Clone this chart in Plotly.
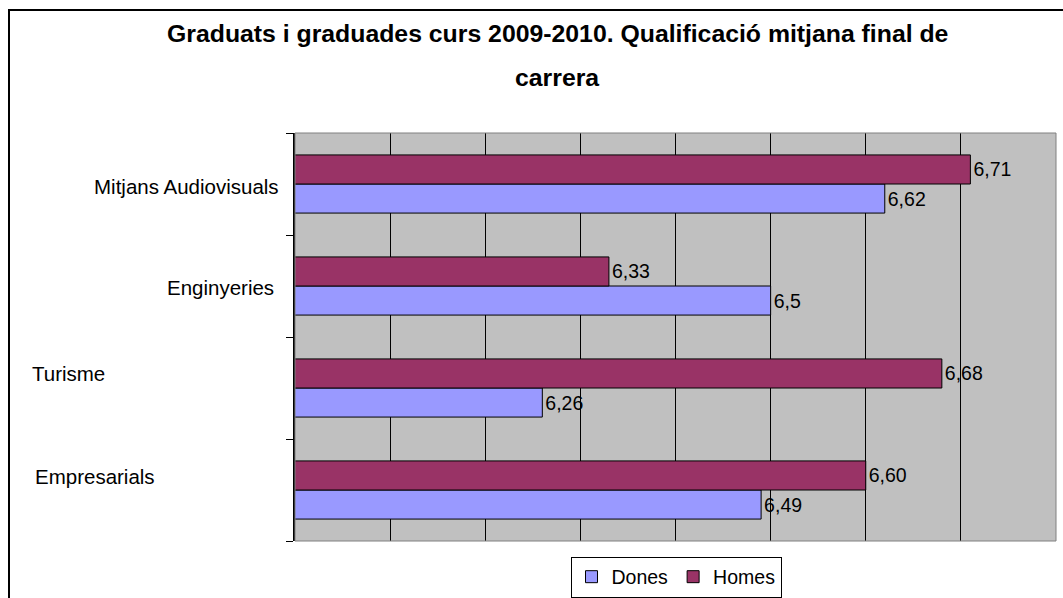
import plotly.graph_objects as go

# ---------------- data ----------------
CATEGORIES = ["Empresarials", "Turisme", "Enginyeries", "Mitjans Audiovisuals"]
DONES = [6.49, 6.26, 6.50, 6.62]
HOMES = [6.60, 6.68, 6.33, 6.71]
DONES_LABELS = ["6,49", "6,26", "6,5", "6,62"]
HOMES_LABELS = ["6,60", "6,68", "6,33", "6,71"]
SERIES_NAMES = ["Dones", "Homes"]
TITLE_LINES = ["Graduats i graduades curs 2009-2010. Qualificació mitjana final de", "carrera"]
X_RANGE = [6.0, 6.8]
X_GRID = [6.1, 6.2, 6.3, 6.4, 6.5, 6.6, 6.7]

# ---------------- layout geometry (pixels) ----------------
W, H = 1063, 598
L, R, T, B = 295, 1056, 133, 541
FONT = "Liberation Sans, Arial, sans-serif"
COLORS = ["#9999FF", "#993366"]
LABEL_POS = [(33, 476), (30, 373), (165, 287), (92, 186)]  # left x, center y per category
TITLE_POS = [(557, 33), (557, 77)]


def px_x(px):
    return (px - L) / (R - L)


def px_y(py):
    return (B - py) / (B - T)


fig = go.Figure()
for name, vals, labels, col in zip(SERIES_NAMES, [DONES, HOMES], [DONES_LABELS, HOMES_LABELS], COLORS):
    fig.add_trace(go.Bar(
        name=name, y=CATEGORIES, x=vals, orientation="h",
        marker=dict(color=col, line=dict(color="black", width=1)),
        text=labels, textposition="outside", constraintext="none",
        textfont=dict(family=FONT, size=19.5, color="black"),
        cliponaxis=False,
    ))

annotations = []
for cat, (lx, cy) in zip(CATEGORIES, LABEL_POS):
    annotations.append(dict(
        text=cat, xref="paper", yref="paper", x=px_x(lx), y=px_y(cy),
        xanchor="left", yanchor="middle", showarrow=False,
        font=dict(family=FONT, size=20.5, color="black"),
    ))
for line, (cx, cy) in zip(TITLE_LINES, TITLE_POS):
    annotations.append(dict(
        text="<b>%s</b>" % line, xref="paper", yref="paper", x=px_x(cx), y=px_y(cy),
        xanchor="center", yanchor="middle", showarrow=False,
        font=dict(family=FONT, size=24.8, color="black"),
    ))

shapes = [
    # outer chart frame
    dict(type="rect", xref="paper", yref="paper",
         x0=px_x(9), x1=px_x(1080), y0=px_y(620), y1=px_y(10),
         line=dict(color="black", width=2), fillcolor="rgba(0,0,0,0)", layer="above"),
    # plot area border (grey)
    dict(type="rect", xref="paper", yref="paper", x0=0, x1=1, y0=0, y1=1,
         line=dict(color="#808080", width=1), fillcolor="rgba(0,0,0,0)", layer="above"),
]

fig.update_layout(
    width=W, height=H, autosize=False,
    margin=dict(l=L, r=W - R, t=T, b=H - B, pad=0, autoexpand=False),
    paper_bgcolor="white", plot_bgcolor="#C0C0C0",
    barmode="group", bargap=0.43, bargroupgap=0,
    font=dict(family=FONT, size=19.5, color="black"),
    showlegend=True,
    legend=dict(orientation="h", x=px_x(676), y=px_y(577), xanchor="center", yanchor="middle",
                bordercolor="black", borderwidth=1, bgcolor="white",
                font=dict(family=FONT, size=19.5, color="black"), itemwidth=30,
                traceorder="normal"),
    annotations=annotations,
    shapes=shapes,
)
fig.update_xaxes(range=X_RANGE, tickvals=X_GRID, showticklabels=False, ticks="",
                 showgrid=True, gridcolor="black", gridwidth=1, zeroline=False,
                 showline=False, fixedrange=True)
fig.update_yaxes(type="category", categoryorder="array", categoryarray=CATEGORIES,
                 showticklabels=False, ticks="outside", tickson="boundaries", ticklen=7,
                 tickcolor="black", tickwidth=1, showgrid=False, showline=True,
                 linecolor="black", linewidth=1.5, zeroline=False, fixedrange=True)

fig.write_html("out.html")
